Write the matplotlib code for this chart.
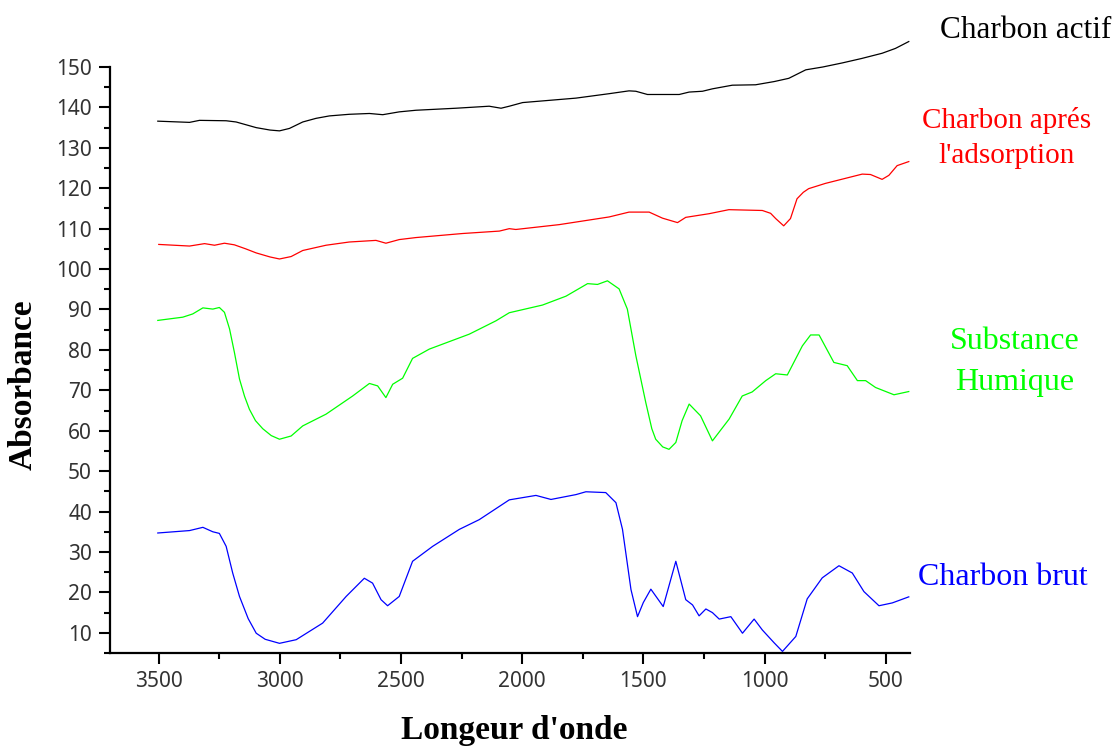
import matplotlib
matplotlib.use("Agg")
import matplotlib.pyplot as plt
from matplotlib.ticker import MultipleLocator

# IR spectra (wavenumber in cm-1, absorbance in arbitrary units)
actif_x = [3503, 3372, 3331, 3221, 3180, 3097, 3040, 3001, 2960, 2905, 2850, 2795, 2713, 2630,
           2575, 2507, 2438, 2273, 2136, 2087, 2053, 1998, 1778, 1641, 1559, 1531, 1483, 1352,
           1311, 1256, 1215, 1133, 1037, 960, 900, 860, 830, 760, 680, 600, 515, 460, 405]
actif_y = [136.6, 136.3, 136.8, 136.7, 136.4, 135.0, 134.4, 134.2, 134.8, 136.4, 137.3, 137.9,
           138.3, 138.5, 138.2, 138.9, 139.3, 139.8, 140.3, 139.8, 140.3, 141.2, 142.3, 143.4,
           144.1, 144.0, 143.2, 143.2, 143.8, 144.0, 144.6, 145.5, 145.6, 146.4, 147.2, 148.4,
           149.3, 150.0, 151.0, 152.1, 153.4, 154.6, 156.3]

apres_x = [3499, 3372, 3310, 3269, 3228, 3187, 3140, 3097, 3040, 3001, 2953, 2905, 2809, 2713,
           2603, 2562, 2507, 2438, 2246, 2094, 2053, 2026, 1847, 1641, 1559, 1476, 1421, 1359,
           1325, 1229, 1147, 1009, 975, 954, 921, 893, 866, 840, 818, 749, 597, 563, 515, 487,
           453, 405]
apres_y = [106.1, 105.7, 106.3, 105.9, 106.4, 106.0, 105.0, 104.0, 103.0, 102.5, 103.1, 104.6,
           105.9, 106.7, 107.1, 106.4, 107.3, 107.8, 108.8, 109.4, 110.0, 109.8, 111.0, 112.9,
           114.1, 114.1, 112.6, 111.5, 112.8, 113.7, 114.7, 114.5, 113.8, 112.5, 110.7, 112.5,
           117.4, 119.0, 119.9, 121.2, 123.5, 123.4, 122.2, 123.2, 125.6, 126.6]

humique_x = [3503, 3400, 3359, 3317, 3276, 3249, 3228, 3207, 3187, 3166, 3145, 3125, 3100, 3070,
             3035, 3001, 2953, 2905, 2809, 2699, 2630, 2596, 2562, 2534, 2493, 2452, 2383, 2218,
             2108, 2053, 1916, 1819, 1730, 1689, 1648, 1600, 1566, 1531, 1490, 1465, 1449, 1420,
             1394, 1366, 1340, 1311, 1264, 1215, 1146, 1092, 1051, 995, 954, 906, 844, 810, 775,
             714, 659, 617, 583, 542, 466, 405]
humique_y = [87.3, 88.1, 88.9, 90.4, 90.1, 90.5, 89.3, 85.2, 79.4, 72.8, 68.5, 65.3, 62.5, 60.5,
             58.8, 57.9, 58.7, 61.2, 64.1, 68.6, 71.7, 71.1, 68.2, 71.5, 73.0, 77.9, 80.2, 83.9,
             87.2, 89.2, 91.1, 93.3, 96.4, 96.2, 97.1, 95.1, 90.1, 78.6, 67.0, 60.5, 57.9, 56.0,
             55.4, 57.1, 62.5, 66.6, 63.7, 57.5, 62.9, 68.6, 69.6, 72.4, 74.1, 73.8, 81.0, 83.7,
             83.7, 76.9, 76.1, 72.4, 72.4, 70.7, 68.9, 69.7]

brut_x = [3503, 3372, 3317, 3276, 3249, 3221, 3194, 3166, 3130, 3097, 3060, 3001, 2932, 2823,
          2726, 2651, 2617, 2582, 2555, 2507, 2452, 2369, 2259, 2177, 2053, 1943, 1881, 1778,
          1737, 1655, 1613, 1586, 1551, 1524, 1500, 1469, 1418, 1366, 1325, 1297, 1270, 1242,
          1215, 1187, 1139, 1091, 1043, 1009, 960, 926, 871, 824, 762, 693, 638, 590, 528, 473,
          405]
brut_y = [34.7, 35.3, 36.1, 35.0, 34.6, 31.4, 24.8, 19.0, 13.5, 9.9, 8.4, 7.4, 8.3, 12.4,
          19.0, 23.5, 22.3, 18.2, 16.7, 19.0, 27.7, 31.4, 35.6, 38.0, 42.9, 44.0, 43.0, 44.2,
          44.9, 44.7, 42.2, 35.6, 20.7, 14.0, 17.5, 20.8, 16.5, 27.7, 18.2, 16.9, 14.2, 15.9,
          15.0, 13.4, 14.0, 9.9, 13.4, 10.7, 7.5, 5.4, 9.1, 18.4, 23.6, 26.6, 24.8, 20.2, 16.7,
          17.4, 18.9]

fig = plt.figure(figsize=(11.16, 7.47), dpi=100)
ax = fig.add_axes([0.0986, 0.1258, 0.7168, 0.7845])

ax.plot(actif_x, actif_y, color="black", lw=0.9, clip_on=False)
ax.plot(apres_x, apres_y, color="#ff0000", lw=0.9, clip_on=False)
ax.plot(humique_x, humique_y, color="#00ff00", lw=0.9, clip_on=False)
ax.plot(brut_x, brut_y, color="#0000ff", lw=0.9, clip_on=False)

ax.set_xlim(3700, 400)
ax.set_ylim(5, 150)
ax.xaxis.set_major_locator(MultipleLocator(500))
ax.xaxis.set_minor_locator(MultipleLocator(250))
ax.yaxis.set_major_locator(MultipleLocator(10))
ax.yaxis.set_minor_locator(MultipleLocator(5))
ax.set_yticks(range(10, 151, 10))

for side in ("top", "right"):
    ax.spines[side].set_visible(False)
for side in ("left", "bottom"):
    ax.spines[side].set_linewidth(1.6)

ax.tick_params(which="major", direction="out", length=8, width=1.5,
               labelsize=15, labelcolor="#333333", pad=5)
ax.tick_params(which="minor", direction="out", length=4.5, width=1.5)
for lab in ax.get_xticklabels() + ax.get_yticklabels():
    lab.set_fontfamily("Noto Sans")

ax.set_xlabel("Longeur d'onde", fontsize=24, fontweight="bold",
              fontfamily="Liberation Serif")
ax.xaxis.set_label_coords(0.505, -0.105)
ax.set_ylabel("Absorbance", fontsize=24, fontweight="bold",
              fontfamily="Liberation Serif")
ax.yaxis.set_label_coords(-0.089, 0.458)

W, H = 1116, 747
serif = "Liberation Serif"
fig.text(940 / W, 1 - 38 / H, "Charbon actif", color="black", fontsize=22.5,
         fontfamily=serif, ha="left", va="baseline")
fig.text(1007 / W, 1 - 128 / H, "Charbon aprés", color="#ff0000", fontsize=21,
         fontfamily=serif, ha="center", va="baseline")
fig.text(1007 / W, 1 - 163 / H, "l'adsorption", color="#ff0000", fontsize=21,
         fontfamily=serif, ha="center", va="baseline")
fig.text(1015 / W, 1 - 349 / H, "Substance", color="#00ff00", fontsize=23,
         fontfamily=serif, ha="center", va="baseline")
fig.text(1015 / W, 1 - 390 / H, "Humique", color="#00ff00", fontsize=23,
         fontfamily=serif, ha="center", va="baseline")
fig.text(918 / W, 1 - 585 / H, "Charbon brut", color="#0000ff", fontsize=23,
         fontfamily=serif, ha="left", va="baseline")

fig.savefig("out.png", dpi=100)
plt.close(fig)
